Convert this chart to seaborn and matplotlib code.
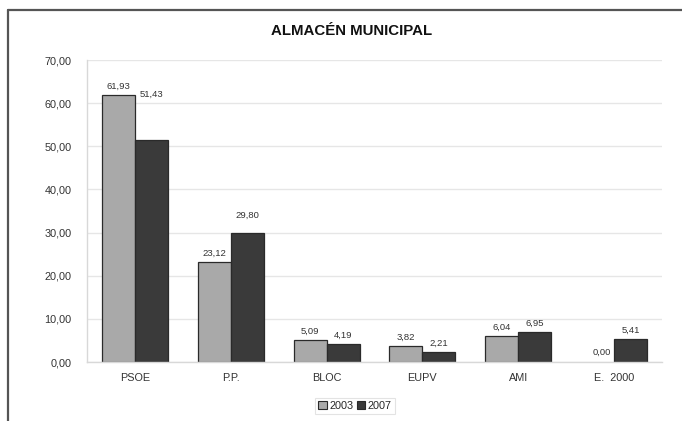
import matplotlib
matplotlib.use("Agg")
import matplotlib.pyplot as plt
import seaborn as sns
import pandas as pd
from matplotlib.patches import Patch
from matplotlib.lines import Line2D

categories = ["PSOE", "P.P.", "BLOC", "EUPV", "AMI", "E.  2000"]
years = ["2003", "2007"]
values_2003 = [61.93, 23.12, 5.09, 3.82, 6.04, 0.00]
values_2007 = [51.43, 29.80, 4.19, 2.21, 6.95, 5.41]
y_ticks = [0, 10, 20, 30, 40, 50, 60, 70]

df = pd.DataFrame({
    "partido": categories * 2,
    "year": [years[0]] * len(categories) + [years[1]] * len(categories),
    "value": values_2003 + values_2007,
})

sns.set_theme(style="white")
plt.rcParams["font.family"] = ["Liberation Sans", "DejaVu Sans"]

fig = plt.figure(figsize=(6.82, 4.21), dpi=100)
ax = fig.add_axes([87 / 682, 1 - 362 / 421, (662 - 87) / 682, (362 - 60) / 421])

palette = {"2003": "#a9a9a9", "2007": "#3a3a3a"}
sns.barplot(data=df, x="partido", y="value", hue="year", palette=palette,
            width=0.69, saturation=1, edgecolor="#2a2a2a", linewidth=0.9,
            ax=ax, legend=False, errorbar=None)
for p in ax.patches:
    if p.get_height() == 0:
        p.set_linewidth(0)

ax.set_xlim(-0.5, len(categories) - 0.5)
ax.set_ylim(0, 70)
ax.set_yticks(y_ticks)
ax.set_yticklabels([f"{t:.2f}".replace(".", ",") for t in y_ticks])
ax.set_xlabel("")
ax.set_ylabel("")
ax.yaxis.grid(True, color="#e6e6e6", linewidth=1.0)
ax.set_axisbelow(True)
for s in ["top", "right"]:
    ax.spines[s].set_visible(False)
for s in ["left", "bottom"]:
    ax.spines[s].set_color("#d8d8d8")
    ax.spines[s].set_linewidth(1.0)
ax.tick_params(axis="y", labelsize=7.8, colors="#333333", length=3, pad=8)
ax.tick_params(axis="x", labelsize=7.8, colors="#333333", length=0, pad=8)
for lbl in ax.get_yticklabels() + ax.get_xticklabels():
    lbl.set_color("#333333")

# value labels: (dx points, dy points) offsets per bar
offsets_2003 = [(0, 3), (0, 3), (0, 3), (0, 3), (0, 3), (3, 4)]
offsets_2007 = [(0, 30), (0, 10), (0, 3), (0, 3), (0, 3), (0, 3)]
w = 0.69 / 2
for i, cat in enumerate(categories):
    for val, off, shift in ((values_2003[i], offsets_2003[i], -w / 2),
                            (values_2007[i], offsets_2007[i], w / 2)):
        ax.annotate(f"{val:.2f}".replace(".", ","), xy=(i + shift, val),
                    xytext=off, textcoords="offset points",
                    ha="center", va="bottom", fontsize=6.8, color="#333333")

fig.text(352 / 682, 1 - 31 / 421, "ALMACÉN MUNICIPAL", ha="center", va="center",
         fontsize=10.8, fontweight="bold", color="#111111")

handles = [Patch(facecolor=palette[y], edgecolor="#2a2a2a", linewidth=0.8, label=y) for y in years]
leg = fig.legend(handles=handles, loc="center", bbox_to_anchor=(355 / 682, 1 - 406 / 421),
                 ncol=2, fontsize=7.8, frameon=True, handlelength=0.8, handleheight=0.8,
                 handletextpad=0.2, columnspacing=0.3, borderpad=0.3, fancybox=False)
leg.get_frame().set_edgecolor("#dddddd")
leg.get_frame().set_linewidth(0.8)

# outer chart border
fig.add_artist(Line2D([8 / 682, 1.0], [1 - 10 / 421, 1 - 10 / 421], transform=fig.transFigure,
                      color="#555555", linewidth=1.6))
fig.add_artist(Line2D([8 / 682, 8 / 682], [0, 1 - 10 / 421], transform=fig.transFigure,
                      color="#555555", linewidth=1.6))

fig.savefig("out.png", dpi=100, facecolor="white")
